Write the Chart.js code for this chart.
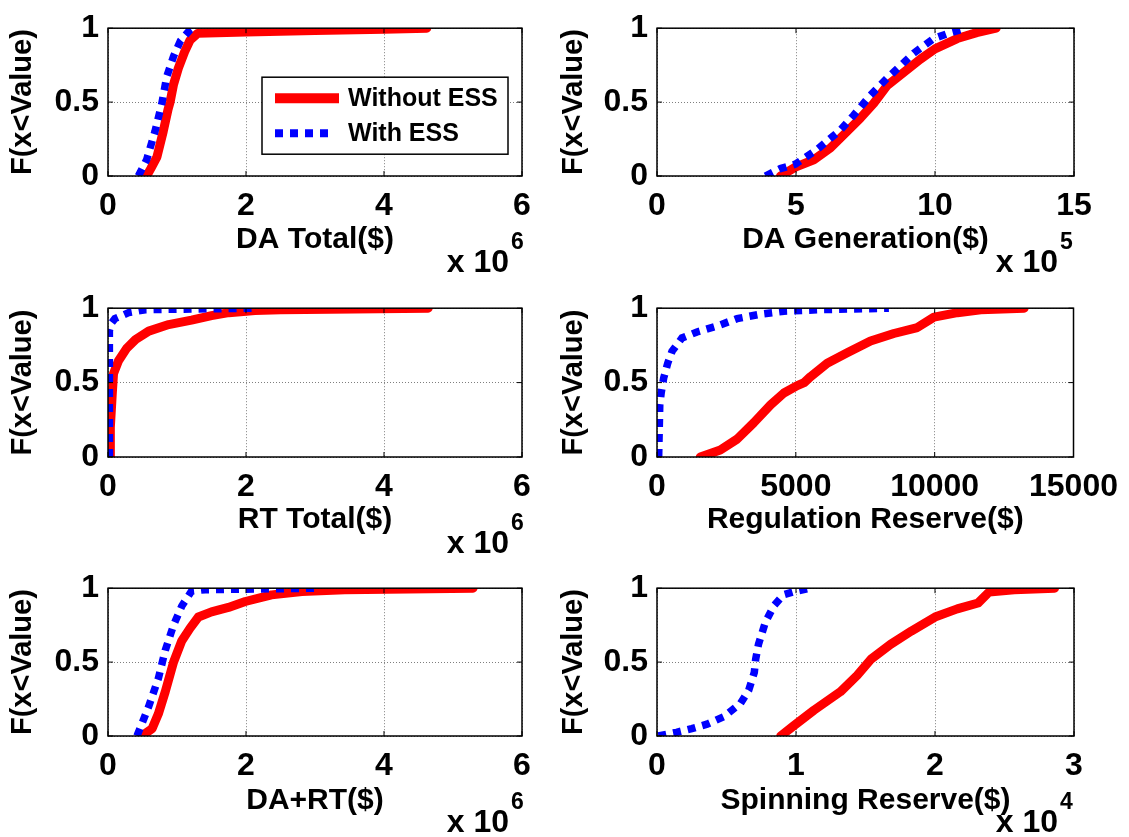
<!DOCTYPE html>
<html>
<head>
<meta charset="utf-8">
<script src="https://cdn.jsdelivr.net/npm/chart.js@4/dist/chart.umd.min.js"></script>
<style>
html,body{margin:0;padding:0;background:#fff;}
body{width:1129px;height:837px;position:relative;overflow:hidden;}
canvas{position:absolute;}
</style>
</head>
<body>
<canvas id="c1"></canvas>
<canvas id="c2"></canvas>
<canvas id="c3"></canvas>
<canvas id="c4"></canvas>
<canvas id="c5"></canvas>
<canvas id="c6"></canvas>
<script>
// ---------------- DATA ----------------
const seriesLabels = ['Without ESS', 'With ESS'];
const yAxisTitle = 'F(x<Value)';
const yTickValues = [0, 0.5, 1];

// DA Total ($)
const daTotalWithoutX = [0.56e6, 0.62e6, 0.71e6, 0.80e6, 0.87e6, 0.90e6, 0.95e6, 1.02e6, 1.11e6, 1.19e6, 1.30e6, 2.0e6, 3.0e6, 4.0e6, 4.62e6];
const daTotalWithoutF = [0, 0.05, 0.13, 0.30, 0.45, 0.50, 0.62, 0.73, 0.84, 0.92, 0.965, 0.975, 0.985, 0.993, 1.0];
const daTotalWithX = [0.44e6, 0.56e6, 0.68e6, 0.78e6, 0.85e6, 0.95e6, 1.05e6, 1.19e6, 1.22e6];
const daTotalWithF = [0, 0.11, 0.30, 0.49, 0.67, 0.81, 0.915, 0.99, 1.0];

// DA Generation ($)
const daGenWithoutX = [4.44e5, 4.98e5, 5.64e5, 6.24e5, 6.83e5, 7.31e5, 7.79e5, 8.27e5, 8.87e5, 9.47e5, 10.0e5, 10.8e5, 11.5e5, 12.2e5];
const daGenWithoutF = [0, 0.06, 0.11, 0.19, 0.30, 0.39, 0.49, 0.61, 0.70, 0.79, 0.86, 0.93, 0.97, 1.0];
const daGenWithX = [3.9e5, 4.44e5, 4.98e5, 5.76e5, 6.59e5, 7.07e5, 7.67e5, 8.27e5, 9.23e5, 9.95e5, 10.55e5, 11.15e5];
const daGenWithF = [0, 0.05, 0.08, 0.18, 0.31, 0.41, 0.545, 0.66, 0.83, 0.93, 0.97, 1.0];

// RT Total ($)
const rtTotalWithoutX = [0.03e6, 0.034e6, 0.06e6, 0.08e6, 0.15e6, 0.27e6, 0.40e6, 0.59e6, 0.88e6, 1.21e6, 1.50e6, 1.75e6, 2.13e6, 2.5e6, 4.64e6];
const rtTotalWithoutF = [0, 0.2, 0.41, 0.56, 0.645, 0.73, 0.79, 0.846, 0.89, 0.92, 0.95, 0.97, 0.985, 0.99, 1.0];
const rtTotalWithX = [0.02e6, 0.02e6, 0.05e6, 0.10e6, 0.30e6, 0.54e6, 2.13e6];
const rtTotalWithF = [0, 0.85, 0.90, 0.93, 0.97, 0.99, 1.0];

// Regulation Reserve ($)
const regWithoutX = [1560, 2280, 2885, 3485, 4090, 4570, 5050, 5300, 5530, 6130, 6850, 7690, 8530, 9375, 9975, 10820, 11660, 13220];
const regWithoutF = [0, 0.047, 0.12, 0.23, 0.35, 0.43, 0.48, 0.50, 0.54, 0.63, 0.70, 0.78, 0.83, 0.87, 0.94, 0.97, 0.99, 1.0];
const regWithX = [60, 100, 150, 240, 385, 540, 900, 1440, 2160, 2885, 3725, 4570, 5890, 8350];
const regWithF = [0, 0.35, 0.43, 0.53, 0.63, 0.71, 0.80, 0.84, 0.88, 0.93, 0.96, 0.98, 0.99, 1.0];

// DA+RT ($)
const daRtWithoutX = [0.49e6, 0.64e6, 0.73e6, 0.83e6, 0.95e6, 1.07e6, 1.19e6, 1.31e6, 1.50e6, 1.745e6, 1.99e6, 2.37e6, 2.81e6, 3.43e6, 5.29e6];
const daRtWithoutF = [0, 0.05, 0.15, 0.30, 0.50, 0.645, 0.73, 0.805, 0.84, 0.87, 0.91, 0.955, 0.977, 0.99, 1.0];
const daRtWithX = [0.42e6, 0.59e6, 0.73e6, 0.83e6, 0.95e6, 1.07e6, 1.21e6, 1.41e6, 3.05e6];
const daRtWithF = [0, 0.2, 0.39, 0.58, 0.75, 0.88, 0.98, 0.99, 1.0];

// Spinning Reserve ($)
const spinWithoutX = [0.89e4, 0.985e4, 1.13e4, 1.32e4, 1.44e4, 1.54e4, 1.68e4, 1.83e4, 2.0e4, 2.16e4, 2.31e4, 2.39e4, 2.57e4, 2.86e4];
const spinWithoutF = [0, 0.07, 0.175, 0.30, 0.41, 0.52, 0.62, 0.71, 0.805, 0.86, 0.90, 0.975, 0.99, 1.0];
const spinWithX = [0.01e4, 0.14e4, 0.25e4, 0.36e4, 0.48e4, 0.60e4, 0.66e4, 0.70e4, 0.71e4, 0.73e4, 0.78e4, 0.84e4, 0.91e4, 1.0e4, 1.10e4];
const spinWithF = [0, 0.025, 0.05, 0.08, 0.13, 0.22, 0.31, 0.43, 0.52, 0.62, 0.77, 0.88, 0.955, 0.98, 1.0];

// x-axis titles, ranges, tick steps and exponent labels
const xTitles = ['DA Total($)', 'DA Generation($)', 'RT Total($)', 'Regulation Reserve($)', 'DA+RT($)', 'Spinning Reserve($)'];
const xMaxes = [6e6, 15e5, 6e6, 15000, 6e6, 3e4];
const xSteps = [2e6, 5e5, 2e6, 5000, 2e6, 1e4];
const xExponents = [6, 5, 6, null, 6, 4];

// ---------------- LAYOUT ----------------
const FONT = '"Liberation Sans", Arial, Helvetica, sans-serif';
const RED = 'rgb(255,0,0)';
const BLUE = 'rgb(0,0,255)';
const TICK_SIZE = 32, TITLE_SIZE = 30, YTITLE_SIZE = 29;
const cols = [
  {left: 0, width: 560, area: 108, padRight: 38, yTitlePad: 6, expGap: 13},
  {left: 548, width: 581, area: 109, padRight: 55, yTitlePad: 9, expGap: 16}
];
const rows = [
  {top: 0, height: 280, padTop: 19, axisH: 104, titlePadB: 22},
  {top: 280, height: 280, padTop: 19, axisH: 103, titlePadB: 22},
  {top: 560, height: 277, padTop: 20, axisH: 101, titlePadB: 18}
];

const panelData = [
  [daTotalWithoutX, daTotalWithoutF, daTotalWithX, daTotalWithF],
  [daGenWithoutX, daGenWithoutF, daGenWithX, daGenWithF],
  [rtTotalWithoutX, rtTotalWithoutF, rtTotalWithX, rtTotalWithF],
  [regWithoutX, regWithoutF, regWithX, regWithF],
  [daRtWithoutX, daRtWithoutF, daRtWithX, daRtWithF],
  [spinWithoutX, spinWithoutF, spinWithX, spinWithF]
];

function pts(xs, fs) { return xs.map((x, i) => ({x: x, y: fs[i]})); }

// MATLAB-like frame: box and inward tick marks
const framePlugin = {
  id: 'matlabFrame',
  afterDraw(chart) {
    const {ctx, chartArea: a, scales} = chart;
    ctx.save();
    ctx.strokeStyle = '#000';
    ctx.lineWidth = 1.5;
    ctx.setLineDash([]);
    ctx.strokeRect(a.left, a.top, a.right - a.left, a.bottom - a.top);
    ctx.lineWidth = 1;
    const L = 5;
    scales.x.ticks.forEach(t => {
      const px = scales.x.getPixelForValue(t.value);
      ctx.beginPath();
      ctx.moveTo(px, a.bottom); ctx.lineTo(px, a.bottom - L);
      ctx.moveTo(px, a.top); ctx.lineTo(px, a.top + L);
      ctx.stroke();
    });
    scales.y.ticks.forEach(t => {
      const py = scales.y.getPixelForValue(t.value);
      ctx.beginPath();
      ctx.moveTo(a.left, py); ctx.lineTo(a.left + L, py);
      ctx.moveTo(a.right, py); ctx.lineTo(a.right - L, py);
      ctx.stroke();
    });
    ctx.restore();
  }
};

// "x 10^n" exponent label at the right end of the x axis
const exponentPlugin = {
  id: 'expLabel',
  afterDraw(chart, args, opts) {
    if (opts.exp === null || opts.exp === undefined) return;
    const {ctx, chartArea: a} = chart;
    ctx.save();
    ctx.fillStyle = '#000';
    ctx.textBaseline = 'middle';
    ctx.font = 'bold 32px ' + FONT;
    ctx.textAlign = 'right';
    ctx.fillText('x 10', a.right - opts.gap, a.bottom + 87);
    ctx.font = 'bold 23px ' + FONT;
    ctx.textAlign = 'left';
    ctx.fillText(String(opts.exp), a.right - opts.gap + 2, a.bottom + 67);
    ctx.restore();
  }
};

// Boxed legend inside the first panel
const boxLegendPlugin = {
  id: 'boxLegend',
  afterDraw(chart, args, opts) {
    if (!opts.show) return;
    const {ctx, chartArea: a} = chart;
    const x0 = a.left + 154, y0 = a.top + 49, w = 246, h = 77;
    ctx.save();
    ctx.fillStyle = '#fff';
    ctx.fillRect(x0, y0, w, h);
    ctx.strokeStyle = '#000';
    ctx.lineWidth = 1.5;
    ctx.strokeRect(x0, y0, w, h);
    const rowsY = [y0 + 21, y0 + 56];
    const lens = [64, 55];
    const widths = [10, 8];
    chart.data.datasets.forEach((ds, i) => {
      const y = rowsY[i];
      ctx.beginPath();
      ctx.strokeStyle = ds.borderColor;
      ctx.lineWidth = widths[i];
      ctx.lineCap = 'butt';
      ctx.setLineDash(ds.borderDash || []);
      ctx.moveTo(x0 + 13, y);
      ctx.lineTo(x0 + 13 + lens[i], y);
      ctx.stroke();
      ctx.setLineDash([]);
      ctx.fillStyle = '#000';
      ctx.font = 'bold 25px ' + FONT;
      ctx.textAlign = 'left';
      ctx.textBaseline = 'middle';
      ctx.fillText(ds.label, x0 + 86, y + 1);
    });
    ctx.restore();
  }
};

for (let p = 0; p < 6; p++) {
  const col = cols[p % 2];
  const row = rows[Math.floor(p / 2)];
  const cv = document.getElementById('c' + (p + 1));
  cv.width = col.width;
  cv.height = row.height;
  cv.style.left = col.left + 'px';
  cv.style.top = row.top + 'px';
  cv.style.width = col.width + 'px';
  cv.style.height = row.height + 'px';
  const [wx, wf, ex, ef] = panelData[p];
  const exp = xExponents[p];

  new Chart(cv, {
    type: 'line',
    data: {
      datasets: [
        {label: seriesLabels[0], data: pts(wx, wf), borderColor: RED, backgroundColor: RED,
         borderWidth: 9, pointRadius: 0, tension: 0, fill: false, order: 2,
         borderCapStyle: 'round', borderJoinStyle: 'round', clip: 0},
        {label: seriesLabels[1], data: pts(ex, ef), borderColor: BLUE, backgroundColor: BLUE,
         borderWidth: 7.5, borderDash: [8, 7], pointRadius: 0, tension: 0, fill: false, order: 1,
         borderCapStyle: 'butt', borderJoinStyle: 'miter', clip: 0}
      ]
    },
    options: {
      responsive: false,
      animation: false,
      devicePixelRatio: 1,
      events: [],
      layout: {padding: {left: 0, right: col.padRight, top: row.padTop, bottom: 0}},
      plugins: {
        legend: {display: false},
        tooltip: {enabled: false},
        expLabel: {exp: exp, gap: col.expGap},
        boxLegend: {show: p === 0}
      },
      scales: {
        x: {
          type: 'linear',
          min: 0, max: xMaxes[p],
          afterFit: s => { s.height = row.axisH; },
          ticks: {
            stepSize: xSteps[p], autoSkip: false, maxRotation: 0, minRotation: 0,
            padding: 11, color: '#000',
            font: {family: FONT, size: TICK_SIZE, weight: 'bold', lineHeight: 1.2},
            callback: v => exp === null ? String(v) : String(Math.round(v / Math.pow(10, exp) * 1000) / 1000)
          },
          grid: {color: 'rgba(0,0,0,0.5)', lineWidth: 1, drawTicks: false},
          border: {display: false, dash: [1, 2]},
          title: {display: true, text: xTitles[p], color: '#000',
                  font: {family: FONT, size: TITLE_SIZE, weight: 'bold', lineHeight: 1.2},
                  padding: {top: 0, bottom: row.titlePadB}}
        },
        y: {
          type: 'linear',
          min: 0, max: 1,
          afterFit: s => { s.width = col.area; },
          afterBuildTicks: s => { s.ticks = yTickValues.map(v => ({value: v})); },
          ticks: {
            padding: 9, color: '#000',
            font: {family: FONT, size: TICK_SIZE, weight: 'bold', lineHeight: 1.2},
            callback: v => String(v)
          },
          grid: {color: 'rgba(0,0,0,0.5)', lineWidth: 1, drawTicks: false},
          border: {display: false, dash: [1, 2]},
          title: {display: true, text: yAxisTitle, color: '#000',
                  font: {family: FONT, size: YTITLE_SIZE, weight: 'bold', lineHeight: 1.2},
                  padding: {top: col.yTitlePad, bottom: 0}}
        }
      }
    },
    plugins: [framePlugin, exponentPlugin, boxLegendPlugin]
  });
}
</script>
</body>
</html>
